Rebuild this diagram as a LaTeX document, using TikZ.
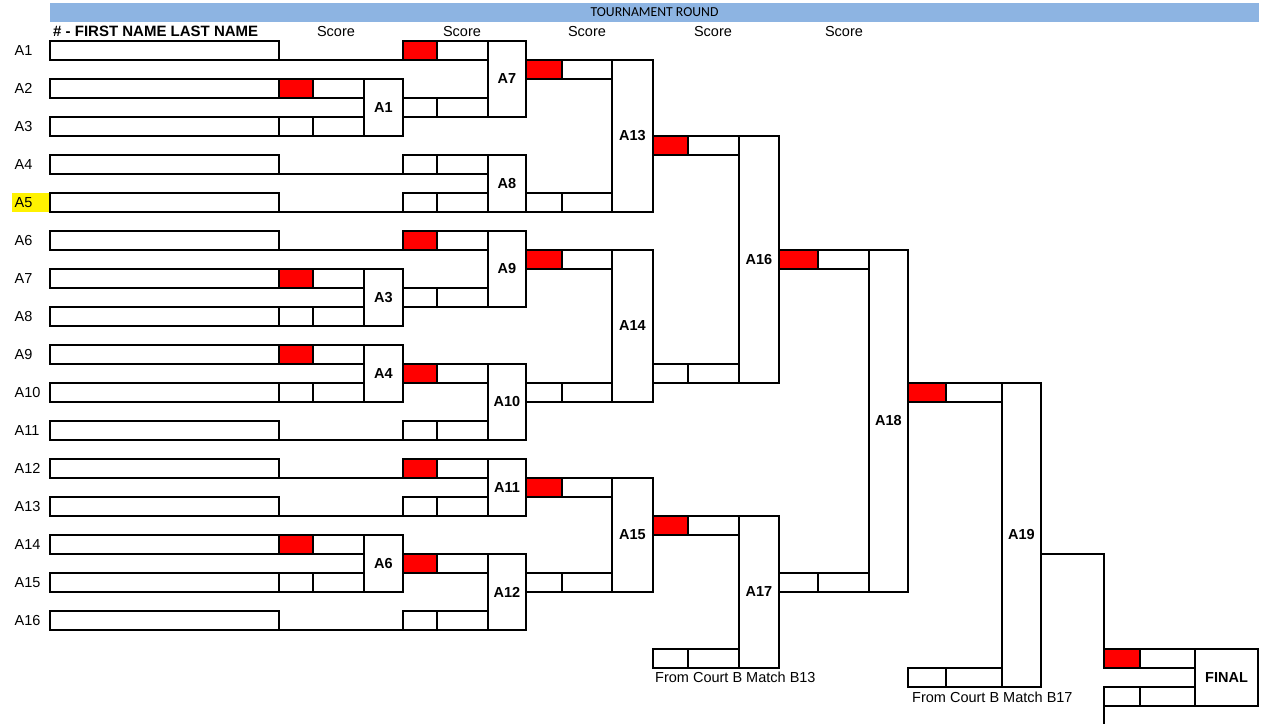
\documentclass[tikz,border=0pt]{standalone}
\usepackage{fontspec}
\setmainfont{Liberation Sans}
\newfontfamily\calib{Carlito}
\definecolor{barblue}{RGB}{141,180,226}
\newcommand{\scell}[5]{\node[cellst,#5,minimum width={#3-#2},minimum height=19pt] (#1) at ({(#2+#3)/2},{12.5+19*#4}) {};}
\newcommand{\mbx}[6]{\node[matchst,minimum width={#3-#2},minimum height={19*(#5-#4+1)}] (#1) at ({(#2+#3)/2},{3+19*(#4+#5+1)/2}) {#6};}
\begin{document}
\begin{tikzpicture}[x=1pt,y=-1pt,
 cellst/.style={draw,line width=1.9pt,inner sep=0pt,outer sep=0pt},
 win/.style={fill=red},
 matchst/.style={draw,line width=1.9pt,inner sep=0pt,outer sep=0pt,font=\bfseries\fontsize{14.5}{16}\selectfont},
 namebox/.style={draw,line width=1.9pt,inner sep=0pt,outer sep=0pt,minimum width=229pt,minimum height=19pt},
 plab/.style={font=\fontsize{14.5}{16}\selectfont,inner sep=0pt,anchor=west},
 hdr/.style={font=\fontsize{14.5}{16}\selectfont,inner sep=0pt},
 ln/.style={line width=1.9pt,line cap=rect}]
\useasboundingbox (0,0) rectangle (1266,723);
% title bar
\node[fill=barblue,inner sep=0pt,minimum width=1209pt,minimum height=18.5pt,font=\calib\fontsize{13.7}{15}\selectfont] (bar) at (654.5,12.5) {TOURNAMENT ROUND};
% header
\node[hdr,anchor=west,font=\bfseries\fontsize{15}{17}\selectfont] (h0) at (53,31.5) {\# - FIRST NAME LAST NAME};
\node[hdr] (sc1) at (336,31.5) {Score};
\node[hdr] (sc2) at (462,31.5) {Score};
\node[hdr] (sc3) at (587,31.5) {Score};
\node[hdr] (sc4) at (713,31.5) {Score};
\node[hdr] (sc5) at (844,31.5) {Score};
% highlight
\fill[yellow] (12,193) rectangle (50,212);
% players
\foreach \i in {1,...,16}{
  \node[namebox] (p\i) at (164.5,{38*\i+12.5}) {};
  \node[plab] (l\i) at (14.5,{38*\i+12.5}) {A\i};
}
% round 1 cells
\scell{c4a}{279}{313}{4}{win}\scell{c4b}{313}{364}{4}{}
\scell{c6a}{279}{313}{6}{}\scell{c6b}{313}{364}{6}{}
\scell{c14a}{279}{313}{14}{win}\scell{c14b}{313}{364}{14}{}
\scell{c16a}{279}{313}{16}{}\scell{c16b}{313}{364}{16}{}
\scell{c18a}{279}{313}{18}{win}\scell{c18b}{313}{364}{18}{}
\scell{c20a}{279}{313}{20}{}\scell{c20b}{313}{364}{20}{}
\scell{c28a}{279}{313}{28}{win}\scell{c28b}{313}{364}{28}{}
\scell{c30a}{279}{313}{30}{}\scell{c30b}{313}{364}{30}{}
% round 1 matches
\mbx{mA1}{364}{403}{4}{6}{A1}
\mbx{mA3}{364}{403}{14}{16}{A3}
\mbx{mA4}{364}{403}{18}{20}{A4}
\mbx{mA6}{364}{403}{28}{30}{A6}
% round 2 cells
\scell{d2a}{403}{437}{2}{win}\scell{d2b}{437}{488}{2}{}
\scell{d5a}{403}{437}{5}{}\scell{d5b}{437}{488}{5}{}
\scell{d8a}{403}{437}{8}{}\scell{d8b}{437}{488}{8}{}
\scell{d10a}{403}{437}{10}{}\scell{d10b}{437}{488}{10}{}
\scell{d12a}{403}{437}{12}{win}\scell{d12b}{437}{488}{12}{}
\scell{d15a}{403}{437}{15}{}\scell{d15b}{437}{488}{15}{}
\scell{d19a}{403}{437}{19}{win}\scell{d19b}{437}{488}{19}{}
\scell{d22a}{403}{437}{22}{}\scell{d22b}{437}{488}{22}{}
\scell{d24a}{403}{437}{24}{win}\scell{d24b}{437}{488}{24}{}
\scell{d26a}{403}{437}{26}{}\scell{d26b}{437}{488}{26}{}
\scell{d29a}{403}{437}{29}{win}\scell{d29b}{437}{488}{29}{}
\scell{d32a}{403}{437}{32}{}\scell{d32b}{437}{488}{32}{}
% byes
\draw[ln] (p1.south east) -- (d2a.south west);
\draw[ln] (p4.south east) -- (d8a.south west);
\draw[ln] (p5.south east) -- (d10a.south west);
\draw[ln] (p6.south east) -- (d12a.south west);
\draw[ln] (p11.south east) -- (d22a.south west);
\draw[ln] (p12.south east) -- (d24a.south west);
\draw[ln] (p13.south east) -- (d26a.south west);
\draw[ln] (p16.south east) -- (d32a.south west);
% round 2 matches
\mbx{mA7}{488}{526}{2}{5}{A7}
\mbx{mA8}{488}{526}{8}{10}{A8}
\mbx{mA9}{488}{526}{12}{15}{A9}
\mbx{mA10}{488}{526}{19}{22}{A10}
\mbx{mA11}{488}{526}{24}{26}{A11}
\mbx{mA12}{488}{526}{29}{32}{A12}
% round 3 cells
\scell{e3a}{526}{562}{3}{win}\scell{e3b}{562}{612}{3}{}
\scell{e10a}{526}{562}{10}{}\scell{e10b}{562}{612}{10}{}
\scell{e13a}{526}{562}{13}{win}\scell{e13b}{562}{612}{13}{}
\scell{e20a}{526}{562}{20}{}\scell{e20b}{562}{612}{20}{}
\scell{e25a}{526}{562}{25}{win}\scell{e25b}{562}{612}{25}{}
\scell{e30a}{526}{562}{30}{}\scell{e30b}{562}{612}{30}{}
% round 3 matches
\mbx{mA13}{612}{653}{3}{10}{A13}
\mbx{mA14}{612}{653}{13}{20}{A14}
\mbx{mA15}{612}{653}{25}{30}{A15}
% round 4 cells
\scell{f7a}{653}{688}{7}{win}\scell{f7b}{688}{739}{7}{}
\scell{f19a}{653}{688}{19}{}\scell{f19b}{688}{739}{19}{}
\scell{f27a}{653}{688}{27}{win}\scell{f27b}{688}{739}{27}{}
\scell{f34a}{653}{688}{34}{}\scell{f34b}{688}{739}{34}{}
% round 4 matches
\mbx{mA16}{739}{779}{7}{19}{A16}
\mbx{mA17}{739}{779}{27}{34}{A17}
% round 5
\scell{g13a}{779}{818}{13}{win}\scell{g13b}{818}{869}{13}{}
\scell{g30a}{779}{818}{30}{}\scell{g30b}{818}{869}{30}{}
\mbx{mA18}{869}{908}{13}{30}{A18}
% round 6
\scell{h20a}{908}{946}{20}{win}\scell{h20b}{946}{1002}{20}{}
\scell{h35a}{908}{946}{35}{}\scell{h35b}{946}{1002}{35}{}
\mbx{mA19}{1002}{1041}{20}{35}{A19}
% final
\scell{k34a}{1104}{1140}{34}{win}\scell{k34b}{1140}{1195}{34}{}
\scell{k36a}{1104}{1140}{36}{}\scell{k36b}{1140}{1195}{36}{}
\mbx{mFinal}{1195}{1258}{34}{36}{FINAL}
\coordinate (o19) at (1041,554);
\coordinate (stub) at (1104,723);
\draw[ln] (o19) -| (k34a.north west);
\draw[ln] (k36a.south west) -- (stub);
% notes
\node[hdr,anchor=west] (fromB13) at (655,677.5) {From Court B Match B13};
\node[hdr,anchor=west] (fromB17) at (912,697) {From Court B Match B17};
\end{tikzpicture}
\end{document}
